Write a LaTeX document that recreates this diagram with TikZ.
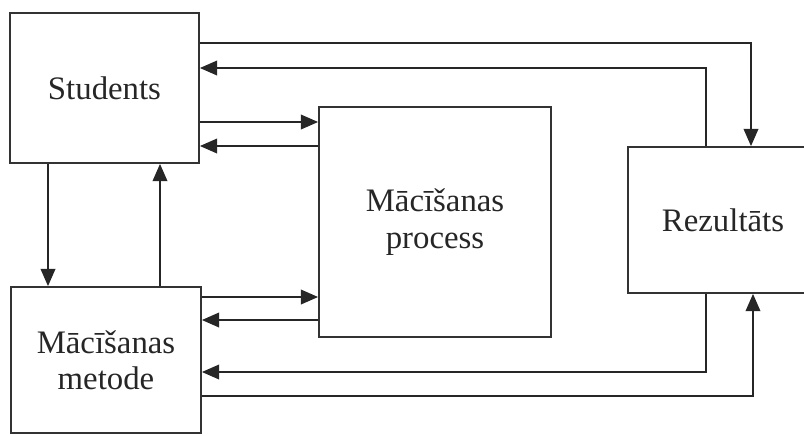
\documentclass[tikz,border=0pt]{standalone}
\usepackage{fontspec}
\setmainfont{Liberation Serif}
\newfontfamily\boxfont{Liberation Serif}
\usepackage{tikz}
\usetikzlibrary{arrows.meta}

\begin{document}
\begin{tikzpicture}[
    x=0.03cm, y=-0.03cm,
    font=\boxfont\fontsize{28}{31}\selectfont,
    >={Triangle[length=0.52cm, width=0.44cm]},
    block/.style={draw=black!80, line width=1.5pt, rectangle, align=center, inner sep=0pt, text=black!85},
    flow/.style={->, line width=1.6pt, draw=black!85}
  ]
    \useasboundingbox (0,0) rectangle (804,435);

    \node[block, minimum width=5.67cm, minimum height=4.5cm] (stud) at (104.5,88) {Students};
    \node[block, minimum width=5.7cm, minimum height=4.38cm] (met) at (106,360) {Mācīšanas\\metode};
    \node[block, minimum width=6.96cm, minimum height=6.9cm] (proc) at (435,222) {Mācīšanas\\process};
    \node[block, minimum width=5.7cm, minimum height=4.38cm] (rez) at (723,220) {Rezultāts};

    % rails
    \coordinate (rtop) at (751,43);
    \coordinate (rret) at (706,68);
    \coordinate (rin) at (706,372);
    \coordinate (rout) at (753,396);
    \coordinate (sp) at (0,122);
    \coordinate (ps) at (0,146);
    \coordinate (mp) at (0,297);
    \coordinate (pm) at (0,320);
    \coordinate (cdown) at (48,0);
    \coordinate (cup) at (160,0);

    \draw[flow] (stud.east |- rtop) -| (rez.north -| rtop);
    \draw[flow] (rez.north -| rret) |- (stud.east |- rret);
    \draw[flow] (rez.south -| rin) |- (met.east |- rin);
    \draw[flow] (met.east |- rout) -| (rez.south -| rout);

    \draw[flow] (stud.east |- sp) -- (proc.west |- sp);
    \draw[flow] (proc.west |- ps) -- (stud.east |- ps);
    \draw[flow] (met.east |- mp) -- (proc.west |- mp);
    \draw[flow] (proc.west |- pm) -- (met.east |- pm);

    \draw[flow] (stud.south -| cdown) -- (met.north -| cdown);
    \draw[flow] (met.north -| cup) -- (stud.south -| cup);
  \end{tikzpicture}
\end{document}
